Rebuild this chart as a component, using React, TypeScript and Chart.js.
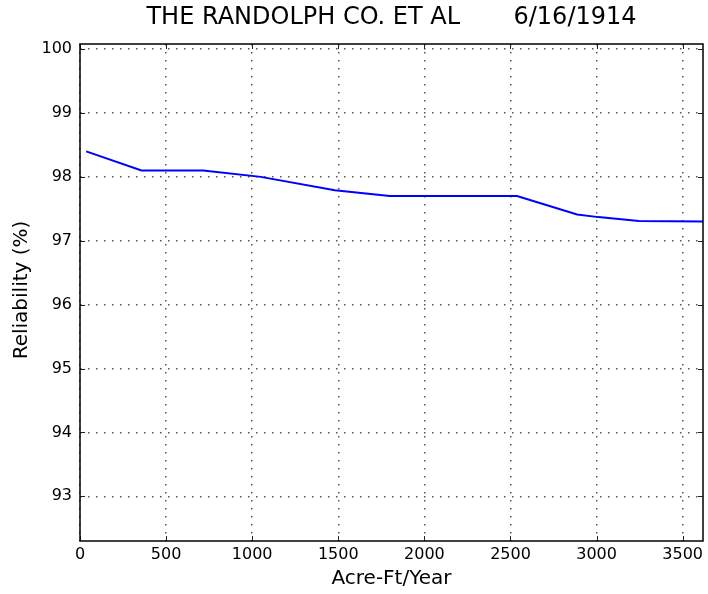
import React, { useEffect, useRef } from "react";
import { Chart, registerables } from "chart.js";

Chart.register(...registerables);

const titleText = "THE RANDOLPH CO. ET AL       6/16/1914";
const xLabel = "Acre-Ft/Year";
const yLabel = "Reliability (%)";

const acreFt = [36, 357, 715, 1050, 1480, 1799, 2538, 2887, 3010, 3246, 3620];
const reliability = [98.4, 98.1, 98.1, 98.0, 97.79, 97.7, 97.7, 97.41, 97.37, 97.31, 97.3];

const xTicks = [0, 500, 1000, 1500, 2000, 2500, 3000, 3500];
const yTicks = [93, 94, 95, 96, 97, 98, 99, 100];

const xMin = 0;
const xMax = 3618;
const yMin = 92.3;
const yMax = 100.08;

const FONT = "'DejaVu Sans', sans-serif";

const framePlugin = {
  id: "frame",
  afterDraw(chart: any) {
    const { ctx, chartArea } = chart;
    const { left, right, top, bottom } = chartArea;
    const xs = chart.scales.x;
    const ys = chart.scales.y;
    ctx.save();
    ctx.strokeStyle = "#222";
    ctx.lineWidth = 1;
    ctx.setLineDash([]);
    const tl = 5;
    xs.ticks.forEach((t: any) => {
      const px = Math.round(xs.getPixelForValue(t.value)) + 0.5;
      ctx.beginPath();
      ctx.moveTo(px, bottom);
      ctx.lineTo(px, bottom - tl);
      ctx.moveTo(px, top);
      ctx.lineTo(px, top + tl);
      ctx.stroke();
    });
    ys.ticks.forEach((t: any) => {
      const py = Math.round(ys.getPixelForValue(t.value)) + 0.5;
      ctx.beginPath();
      ctx.moveTo(left, py);
      ctx.lineTo(left + tl, py);
      ctx.moveTo(right, py);
      ctx.lineTo(right - tl, py);
      ctx.stroke();
    });
    ctx.strokeStyle = "#000";
    ctx.lineWidth = 1.5;
    ctx.strokeRect(left, top, right - left, bottom - top);
    ctx.fillStyle = "#000";
    ctx.textAlign = "center";
    ctx.textBaseline = "middle";
    ctx.font = `24px ${FONT}`;
    ctx.fillText(titleText, (left + right) / 2, 18);
    ctx.font = `20px ${FONT}`;
    ctx.fillText(xLabel, (left + right) / 2, 579);
    ctx.save();
    ctx.translate(22, 290);
    ctx.rotate(-Math.PI / 2);
    ctx.fillText(yLabel, 0, 0);
    ctx.restore();
    ctx.restore();
  },
};

export default function App() {
  const ref = useRef<HTMLCanvasElement | null>(null);
  useEffect(() => {
    document.body.style.margin = "0";
    const canvas = ref.current!;
    const chart = new Chart(canvas, {
      type: "line",
      data: {
        datasets: [
          {
            data: acreFt.map((x, i) => ({ x, y: reliability[i] })),
            borderColor: "#0000ff",
            borderWidth: 2,
            pointRadius: 0,
            fill: false,
            tension: 0,
          },
        ],
      },
      options: {
        animation: false,
        responsive: false,
        maintainAspectRatio: false,
        layout: { padding: { left: 0, right: 5, top: 44, bottom: 0 } },
        plugins: {
          legend: { display: false },
          title: { display: false },
          tooltip: { enabled: false },
        },
        scales: {
          x: {
            type: "linear",
            min: xMin,
            max: xMax,
            afterBuildTicks: (s: any) => {
              s.ticks = xTicks.map((v) => ({ value: v }));
            },
            ticks: {
              autoSkip: false,
              color: "#000",
              font: { family: FONT, size: 16 },
              padding: 4,
              maxRotation: 0,
              callback: (v: any) => String(v),
            },
            grid: { color: "#555", lineWidth: 1.5, drawTicks: false },
            border: { display: false, dash: [1.5, 6.5] },
            afterFit: (s: any) => {
              s.height = 53;
            },
          },
          y: {
            type: "linear",
            min: yMin,
            max: yMax,
            afterBuildTicks: (s: any) => {
              s.ticks = yTicks.map((v) => ({ value: v }));
            },
            ticks: {
              autoSkip: false,
              color: "#000",
              font: { family: FONT, size: 16 },
              padding: 8,
              callback: (v: any) => String(v),
            },
            grid: { color: "#555", lineWidth: 1.5, drawTicks: false },
            border: { display: false, dash: [1.5, 6.5] },
            afterFit: (s: any) => {
              s.width = 80;
            },
          },
        },
      },
      plugins: [framePlugin],
    });
    return () => chart.destroy();
  }, []);
  return <canvas ref={ref} width={708} height={594} style={{ display: "block" }} />;
}
